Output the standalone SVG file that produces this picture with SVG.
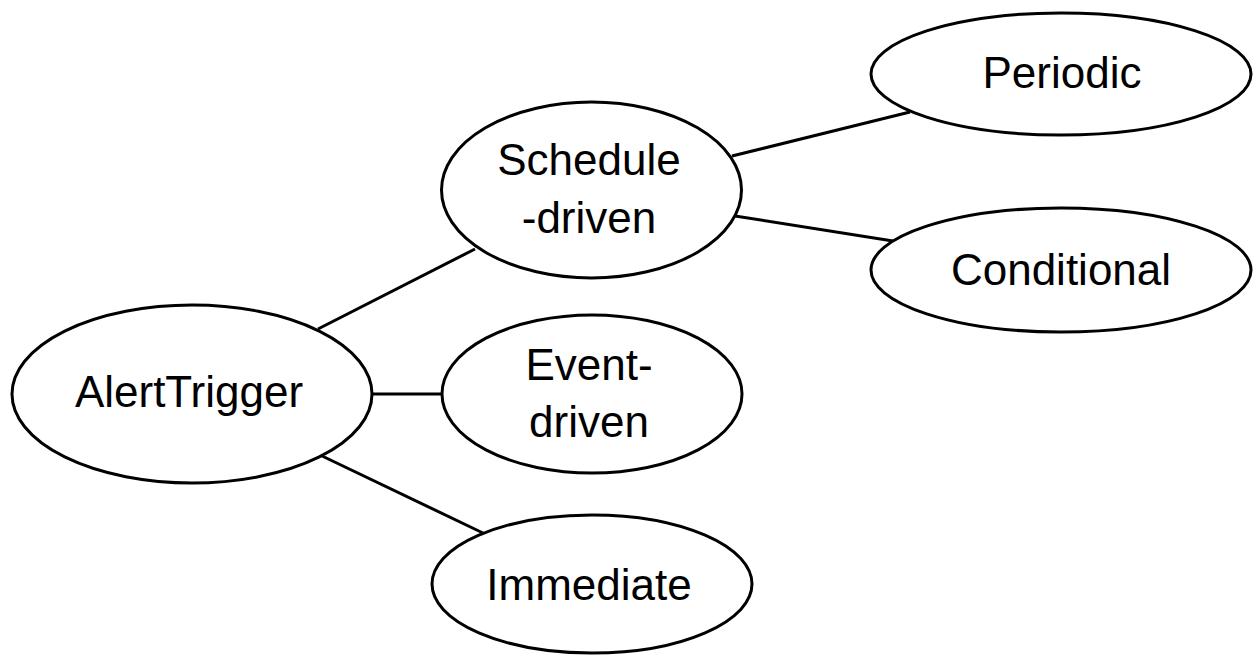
<svg xmlns="http://www.w3.org/2000/svg" width="1254" height="655" viewBox="0 0 1254 655">
<style>
.node ellipse{fill:#fff;stroke:#000;stroke-width:3}
.node text{font-family:"Liberation Sans",Arial,sans-serif;font-size:44px;fill:#000;text-anchor:middle}
#connectors line{stroke:#000;stroke-width:3}
</style>
<rect width="1254" height="655" fill="#fff"/>
<g id="connectors">
<line x1="318" y1="329" x2="475" y2="249"/>
<line x1="372" y1="394" x2="442" y2="394"/>
<line x1="320" y1="455" x2="483" y2="533"/>
<line x1="732" y1="156" x2="910" y2="112"/>
<line x1="735" y1="216" x2="893" y2="241"/>
</g>
<g id="alerttrigger" class="node">
<ellipse cx="192" cy="394" rx="180" ry="89"/>
<text x="189" y="407">AlertTrigger</text>
</g>
<g id="schedule" class="node">
<ellipse cx="591.5" cy="190" rx="150" ry="88"/>
<text x="589" y="175">Schedule</text>
<text x="589" y="233">-driven</text>
</g>
<g id="event" class="node">
<ellipse cx="592" cy="394" rx="150" ry="79"/>
<text x="589" y="380">Event-</text>
<text x="589" y="437">driven</text>
</g>
<g id="immediate" class="node">
<ellipse cx="592" cy="584" rx="160" ry="69"/>
<text x="589" y="600">Immediate</text>
</g>
<g id="periodic" class="node">
<ellipse cx="1061" cy="74" rx="190" ry="61"/>
<text x="1062" y="88">Periodic</text>
</g>
<g id="conditional" class="node">
<ellipse cx="1061" cy="270" rx="190" ry="62"/>
<text x="1061" y="285">Conditional</text>
</g>
</svg>
